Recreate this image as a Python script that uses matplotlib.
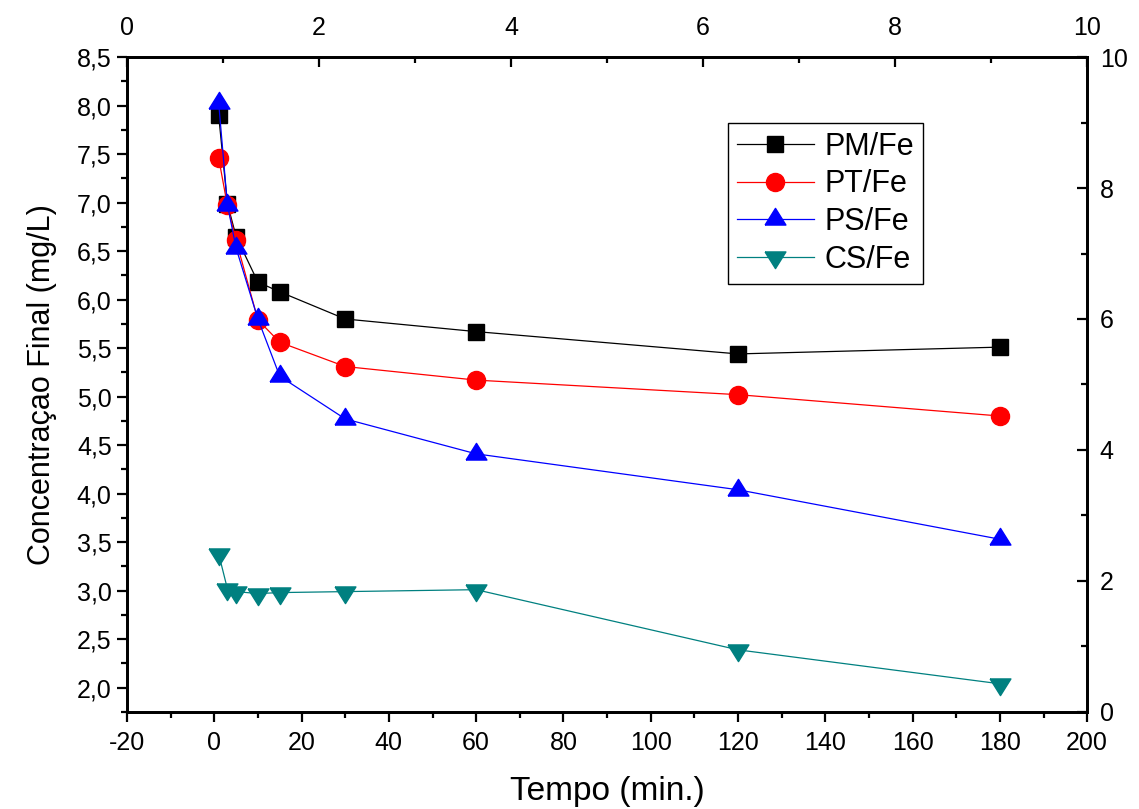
import numpy as np
import matplotlib
matplotlib.use('Agg')
import matplotlib.pyplot as plt
from matplotlib.ticker import MultipleLocator

plt.rcParams['font.family'] = ['Liberation Sans', 'DejaVu Sans']
plt.rcParams['axes.unicode_minus'] = False

# tempo (min.)
tempo = [1, 3, 5, 10, 15, 30, 60, 120, 180]

# concentracao final (mg/L)
pm_fe = [7.90, 6.99, 6.65, 6.18, 6.08, 5.80, 5.67, 5.44, 5.51]
pt_fe = [7.46, 6.97, 6.61, 5.79, 5.56, 5.31, 5.17, 5.02, 4.80]
ps_fe = [8.03, 6.98, 6.53, 5.80, 5.21, 4.77, 4.41, 4.04, 3.53]
cs_fe = [3.38, 3.02, 2.99, 2.97, 2.98, 2.99, 3.01, 2.39, 2.04]

nomes = ['PM/Fe', 'PT/Fe', 'PS/Fe', 'CS/Fe']

# triangulos achatados estilo Origin (centro no baricentro)
tri_up = [(-1, -0.533), (1, -0.533), (0, 1.067), (-1, -0.533)]
tri_dn = [(-1, 0.533), (1, 0.533), (0, -1.067), (-1, 0.533)]

fig = plt.figure(figsize=(11.39, 8.09), dpi=100)
ax = fig.add_axes([0.1115, 0.12, 0.843, 0.8095])

ax.plot(tempo, pm_fe, '-', color='black', lw=0.9, marker='s', ms=11, label=nomes[0])
ax.plot(tempo, pt_fe, '-', color='red', lw=0.9, marker='o', ms=13, label=nomes[1])
ax.plot(tempo, ps_fe, '-', color='blue', lw=0.9, marker=tri_up, ms=16, label=nomes[2])
ax.plot(tempo, cs_fe, '-', color='#008080', lw=0.9, marker=tri_dn, ms=16, label=nomes[3])

ax.set_xlim(-20, 200)
ax.set_ylim(1.75, 8.5)
ax.xaxis.set_major_locator(MultipleLocator(20))
ax.xaxis.set_minor_locator(MultipleLocator(10))
ax.yaxis.set_major_locator(MultipleLocator(0.5))
ax.yaxis.set_minor_locator(MultipleLocator(0.25))
ax.yaxis.set_major_formatter(lambda v, p: f'{v:.1f}'.replace('.', ','))
ax.tick_params(which='major', direction='out', length=7, width=1.6, labelsize=18, pad=4)
ax.tick_params(which='minor', direction='out', length=4, width=1.6)
ax.tick_params(axis='x', which='major', pad=7)

ax.set_xlabel('Tempo (min.)', fontsize=24, labelpad=15)
ax.set_ylabel('Concentraçao Final (mg/L)', fontsize=22, labelpad=14)

for s in ax.spines.values():
    s.set_linewidth(1.8)

# eixos secundarios (superior e direito)
axt = ax.twiny()
axt.set_xlim(0, 10)
axt.xaxis.set_major_locator(MultipleLocator(2))
axt.xaxis.set_minor_locator(MultipleLocator(1))
axt.tick_params(which='major', direction='in', length=7, width=1.6, labelsize=18, pad=12)
axt.tick_params(which='minor', direction='in', length=4, width=1.6)

axr = ax.twinx()
axr.set_ylim(0, 10)
axr.yaxis.set_major_locator(MultipleLocator(2))
axr.yaxis.set_minor_locator(MultipleLocator(1))
axr.tick_params(which='major', direction='in', length=7, width=1.6, labelsize=18, pad=9)
axr.tick_params(which='minor', direction='in', length=4, width=1.6)

for a in (axt, axr):
    for s in a.spines.values():
        s.set_linewidth(1.8)

leg = ax.legend(loc='upper left', bbox_to_anchor=(0.626, 0.9), fontsize=22,
                frameon=True, fancybox=False, edgecolor='black', framealpha=1,
                handlelength=2.5, handletextpad=0.35, labelspacing=0.25,
                borderpad=0.3, borderaxespad=0)
leg.get_frame().set_linewidth(1.0)

fig.savefig('out.png', dpi=100)
